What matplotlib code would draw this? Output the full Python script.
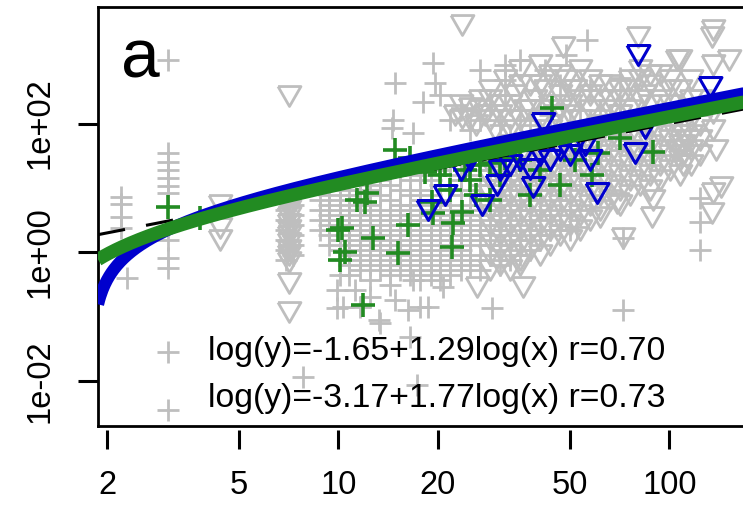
import numpy as np
import matplotlib
matplotlib.use("Agg")
import matplotlib.pyplot as plt

plt.rcParams['font.family'] = ['Liberation Sans', 'DejaVu Sans']

# ---------------- data ----------------
panel_label = "a"
x_ticks = [2, 5, 10, 20, 50, 100]
y_ticks = [1e-2, 1e0, 1e2]
y_tick_labels = ["1e-02", "1e+00", "1e+02"]

fit_intercepts = [-1.65, -3.17]
fit_slopes = [1.29, 1.77]
fit_r = [0.70, 0.73]

# scattered grey "+" points (x, y)
grey_plus = [
    (2.2, 7.2), (2.2, 5.6), (2.2, 3.5), (2.2, 2.4), (2.3, 0.4),
    (3.05, 970), (3.05, 35), (3.05, 25), (3.05, 19), (3.05, 14), (3.05, 10.7),
    (3.05, 8.3), (3.05, 1.55), (3.05, 0.81), (3.05, 0.57), (3.05, 0.028), (3.05, 0.0036),
    (7.1, 6), (7.1, 4), (7.1, 3), (7.1, 2), (7.1, 1.5), (7.1, 1.2),
    (14.8, 425), (19.3, 870), (19.6, 425), (20.3, 277), (18, 215), (14.6, 113),
    (14.5, 85), (16.8, 71), (56.5, 1970), (71.1, 500), (13.4, 11.1), (11.6, 9.3),
    (15.4, 15.9), (19, 22.7), (31.9, 805), (31.9, 470),
    (9.9, 0.26), (9.9, 0.136), (11.6, 0.14), (12.5, 0.2), (13.4, 0.08), (16.8, 0.37),
    (17.7, 0.14), (18.7, 0.14), (20.7, 0.29), (29.2, 0.136), (10.1, 0.44), (11.2, 0.26),
    (14.8, 0.18), (16.5, 0.048), (7.8, 0.0116), (17.3, 0.0087), (72.6, 0.127),
    (52.8, 2.5), (124, 7), (124, 3), (124, 1.08), (72.6, 1.65), (10.3, 0.14),
    (13.3, 0.089), (16.2, 0.127),
    (21.8, 113), (23.4, 161), (25, 79), (26.8, 113), (28.8, 194), (30.8, 95),
    (31.9, 277), (33.1, 66), (35.5, 161), (38, 113), (40.8, 231), (43.7, 135),
    (46.9, 395), (50.2, 95), (53.8, 161), (57.7, 330), (61.9, 135), (66.3, 113),
    (71.1, 194), (26.8, 675), (35.5, 965), (42.2, 675), (48.6, 1150),
]

# dense grey "+" mass, one column per x value
grey_plus_columns = [
    (6.95, [6.5, 4.5, 3.2, 2.2, 1.55, 1.08, 0.76]),
    (7.3, [5.4, 3.8, 2.65, 1.85, 1.3, 0.91]),
    (8.8, [6.5, 4.5, 3.2, 2.2]),
    (9.4, [7.8, 5.4, 3.8, 2.65, 1.85, 1.3]),
    (10.1, [9.3, 6.5, 4.5, 3.2, 2.2, 1.55, 1.08, 0.76]),
    (10.8, [7.8, 5.4, 3.8, 2.65, 1.85, 1.3, 0.91, 0.63, 0.44]),
    (11.6, [11.1, 6.5, 4.5, 3.2, 2.2, 1.55, 1.08, 0.76, 0.53]),
    (12.5, [9.3, 5.4, 3.8, 2.65, 1.85, 1.3, 0.91, 0.63, 0.37]),
    (13.4, [13.2, 7.8, 4.5, 3.2, 2.2, 1.55, 1.08, 0.76, 0.53]),
    (14.3, [11.1, 6.5, 3.8, 2.65, 1.85, 1.3, 0.91, 0.63, 0.44, 0.31]),
    (15.4, [9.3, 5.4, 4.5, 3.2, 2.2, 1.55, 1.08, 0.76, 0.53]),
    (16.5, [13.2, 7.8, 5.4, 3.8, 2.65, 1.85, 1.3, 0.91, 0.63, 0.44]),
    (17.7, [15.9, 9.3, 6.5, 4.5, 3.2, 2.2, 1.55, 1.08, 0.76, 0.53, 0.37]),
    (19.0, [13.2, 7.8, 5.4, 3.8, 2.65, 1.85, 1.3, 0.91, 0.63, 0.44]),
    (20.3, [18.9, 11.1, 6.5, 4.5, 3.2, 2.2, 1.55, 1.08, 0.76, 0.53, 0.37]),
    (21.8, [15.9, 9.3, 5.4, 3.8, 2.65, 1.85, 1.3, 0.91, 0.63, 0.44]),
    (23.4, [27, 13.2, 7.8, 4.5, 3.2, 2.2, 1.55, 1.08, 0.76, 0.53]),
    (25.0, [22.7, 15.9, 9.3, 5.4, 3.8, 2.65, 1.85, 1.3, 0.91, 0.63]),
    (26.8, [18.9, 11.1, 6.5, 4.5, 3.2, 2.2, 1.55, 0.76, 0.53]),
    (28.8, [32.4, 13.2, 7.8, 5.4, 3.8, 2.65, 1.85, 1.3, 0.91]),
    (30.8, [27, 15.9, 9.3, 6.5, 4.5, 3.2, 2.2, 1.08, 0.63]),
    (33.1, [38.7, 18.9, 11.1, 5.4, 2.65, 1.85, 1.3, 0.76]),
    (35.5, [22.7, 13.2, 9.3, 4.5, 1.55, 0.91]),
    (38.0, [27, 15.9, 6.5, 3.2, 2.2, 1.08]),
    (40.8, [18.9, 9.3, 4.5, 1.85]),
    (43.7, [22.7, 11.1, 3.8, 2.2]),
    (46.9, [15.9, 6.5, 2.65]),
    (50.2, [11.1, 4.5, 2.2]),
]

# scattered grey triangles (x, y)
grey_tri = [
    (4.4, 5.4), (4.4, 2.4), (4.4, 1.55),
    (7.1, 270), (7.1, 7), (7.1, 5.5), (7.1, 4.5), (7.1, 3.5), (7.1, 2.8), (7.1, 2.2),
    (7.1, 1.8), (7.1, 1.4), (7.1, 1.1), (7.1, 0.9), (7.1, 0.7), (7.1, 0.33), (7.1, 0.12),
    (136, 2830), (135, 2200), (151, 965), (136, 805), (105.8, 965), (80.6, 2200),
    (47.6, 1530), (23.6, 3400), (108, 965), (116, 470), (124, 231), (93.9, 565),
    (136, 79), (138, 38.7), (143, 10.3), (136, 145), (69.7, 5.8), (61.9, 3.5),
    (88.8, 3.5), (89.4, 6.5), (136, 8.3), (135, 4.1), (72.6, 1.65), (36.1, 0.29),
    (35.5, 0.63), (26.3, 0.29), (110, 66), (110, 46), (110, 32.4), (110, 22.7),
    (114, 55), (106, 38.7),
    (22.5, 135), (23.6, 121), (25, 173), (26, 95), (26.8, 231), (27.8, 135),
    (28.8, 330), (29.8, 79), (30.8, 194), (31.9, 470), (33.1, 113), (34.3, 277),
    (35.5, 675), (36.7, 161), (38, 395), (39.4, 231), (40.8, 805), (42.2, 330),
    (43.7, 565), (45.3, 135), (46.9, 277), (48.6, 470), (50.2, 194), (52, 330),
    (53.8, 675), (57.7, 277), (61.9, 395), (66.3, 231), (71.1, 330), (76.2, 470),
    (81.7, 675), (84.6, 277), (87.6, 395), (100.7, 330),
    (23.4, 194), (25, 113), (26.8, 161), (28.8, 113), (28.8, 231), (30.8, 135),
    (33.1, 194), (33.1, 79), (35.5, 113), (35.5, 395), (38, 161), (38, 66),
    (40.8, 113), (40.8, 395), (43.7, 194), (43.7, 79), (46.9, 161), (46.9, 565),
    (50.2, 135), (50.2, 330), (53.8, 231), (53.8, 113), (57.7, 161), (57.7, 470),
    (61.9, 231), (61.9, 113), (66.3, 161), (66.3, 395), (71.1, 231), (71.1, 135),
    (76.2, 330), (76.2, 161), (81.7, 231), (81.7, 470), (87.6, 194), (87.6, 565),
    (93.9, 231), (100.7, 470), (100.7, 194), (108, 330), (116, 231),
]

# dense grey triangle mass, one column per x value
grey_tri_columns = [
    (28.8, [22.7, 13.2, 7.8, 4.5, 2.65, 1.55, 0.91, 0.53]),
    (30.8, [27, 15.9, 9.3, 5.4, 3.2, 1.85, 1.08, 0.63]),
    (33.1, [22.7, 13.2, 7.8, 4.5, 2.65, 1.55, 0.91, 0.53]),
    (35.5, [32.4, 18.9, 11.1, 6.5, 3.8, 2.2, 1.3, 0.76]),
    (38.0, [27, 15.9, 9.3, 5.4, 3.2, 1.85, 1.08]),
    (40.8, [38.7, 22.7, 13.2, 7.8, 4.5, 2.65, 1.55, 0.91]),
    (43.7, [32.4, 18.9, 11.1, 6.5, 3.8, 2.2, 1.3]),
    (46.9, [46, 27, 15.9, 9.3, 5.4, 3.2, 1.85]),
    (50.2, [38.7, 22.7, 13.2, 7.8, 4.5, 2.65, 1.55]),
    (53.8, [55, 32.4, 18.9, 11.1, 6.5, 3.8, 2.2]),
    (57.7, [46, 27, 15.9, 9.3, 5.4, 3.2]),
    (61.9, [66, 38.7, 22.7, 13.2, 7.8, 4.5]),
    (66.3, [55, 32.4, 18.9, 11.1, 6.5]),
    (71.1, [79, 46, 27, 15.9, 9.3, 5.4]),
    (76.2, [66, 38.7, 22.7, 13.2, 7.8]),
    (81.7, [95, 55, 32.4, 18.9, 11.1]),
    (87.6, [79, 46, 27, 15.9, 9.3]),
    (93.9, [113, 66, 38.7, 22.7, 13.2]),
    (100.7, [95, 55, 32.4, 18.9]),
    (108.0, [135, 79, 46, 27, 15.9]),
    (116.0, [113, 66, 38.7, 22.7]),
    (124.0, [95, 55, 32.4]),
]

green_plus = [
    (3.05, 5), (3.82, 3.4), (12.05, 6), (12.2, 8.4), (10.25, 2.4), (12.7, 1.67),
    (10.5, 1.0), (10.1, 0.76), (15.1, 0.98), (16.2, 2.65), (11.9, 0.15), (19.2, 6.0),
    (19.3, 4.1), (22.1, 1.2), (23.6, 4.2), (22.2, 2.85), (14.8, 38.7), (16.5, 29),
    (44.3, 173), (61, 35), (58.5, 16), (89.4, 36), (71.1, 59), (26.8, 23), (30.8, 16),
    (25, 13.2), (21.8, 9.3), (20.3, 16), (35.5, 27), (40.8, 19), (46.9, 11), (38, 7.8),
    (28.8, 6.5), (26, 7.8), (52, 27), (18.3, 17.5), (21, 22.7), (24.2, 18.9),
    (28.8, 24), (31.9, 29), (11.4, 6.5), (10, 2.2),
]

blue_tri = [
    (18.6, 4.5), (27.2, 5.4), (30.2, 11.1), (41.4, 102), (80.6, 1150), (133, 368),
    (38.8, 10.4), (60.6, 8.4), (79, 35), (84.6, 85), (30.8, 18.9), (33.1, 22.7),
    (35.5, 27), (38, 20), (40.8, 32.4), (43.7, 27), (46.9, 38.7), (50.2, 32.4),
    (52, 46), (55.8, 46), (57.7, 27), (23.4, 18.9), (25, 27), (21, 7.8),
]

# ---------------- styling ----------------
GREY = "#BEBEBE"
GREEN = "#228B22"
BLUE = "#0000CD"

W, H = 743, 505
fig = plt.figure(figsize=(W / 100, H / 100), dpi=100)

ax_l, ax_r, ax_t, ax_b = 98, 770, 7, 425.5
ax = fig.add_axes([ax_l / W, 1 - ax_b / H, (ax_r - ax_l) / W, (ax_b - ax_t) / H])
ax.set_xscale('log')
ax.set_yscale('log')
ax.set_xlim(1.879, 201.5)
ax.set_ylim(0.002046, 6442)

tri = [(-1, 0.87), (1, 0.87), (0, -0.87), (-1, 0.87)]


def expand(cols):
    xs, ys = [], []
    for x, yl in cols:
        xs += [x] * len(yl)
        ys += list(yl)
    return xs, ys


gpx, gpy = map(list, zip(*grey_plus))
cx, cy = expand(grey_plus_columns)
gpx += cx
gpy += cy
gtx, gty = map(list, zip(*grey_tri))
cx, cy = expand(grey_tri_columns)
gtx += cx
gty += cy

ax.plot(gtx, gty, ls='none', marker=tri, ms=16.5, mew=2.0, mfc='none', mec=GREY, zorder=2)
ax.plot(gpx, gpy, ls='none', marker='+', ms=16.5, mew=2.0, color=GREY, zorder=2)

grx, gry = zip(*green_plus)
btx, bty = zip(*blue_tri)
ax.plot(grx, gry, ls='none', marker='+', ms=17.5, mew=2.6, color=GREEN, zorder=3)
ax.plot(btx, bty, ls='none', marker=tri, ms=16.5, mew=2.2, mfc='none', mec=BLUE, zorder=3)

# 1:1 reference line and the two fitted lines (from the printed coefficients)
xs = np.geomspace(1.879, 201.5, 600)
ax.plot(xs, xs, color='black', lw=2.2, dashes=(9, 7), zorder=4)
for a, b, col, lw in [(fit_intercepts[1], fit_slopes[1], BLUE, 8.8),
                      (fit_intercepts[0], fit_slopes[0], GREEN, 9.6)]:
    ys = a + b * xs
    ys = np.where(ys > 0, ys, np.nan)
    ax.plot(xs, ys, color=col, lw=lw, solid_capstyle='butt', zorder=5)

# frame
for s in ['left', 'top', 'right']:
    ax.spines[s].set_linewidth(2.0)
ax.spines['bottom'].set_position(('outward', 3))
ax.spines['bottom'].set_color('none')
ax.plot([0, 1], [0, 0], transform=ax.transAxes, color='black', lw=2.0,
        clip_on=False, zorder=6, solid_capstyle='projecting')

ax.set_xticks(x_ticks)
ax.set_xticklabels([str(t) for t in x_ticks])
ax.xaxis.set_minor_locator(matplotlib.ticker.NullLocator())
ax.set_yticks(y_ticks)
ax.set_yticklabels(y_tick_labels, rotation=90, va='center')
ax.yaxis.set_minor_locator(matplotlib.ticker.NullLocator())
ax.tick_params(axis='x', length=14, width=2.2, labelsize=23.5, pad=15, color='black')
ax.tick_params(axis='y', length=14.5, width=2.2, labelsize=23.5, pad=16, color='black')

# texts
fig.text(140 / W, 1 - 77 / H, panel_label, fontsize=50, ha='center', va='baseline')
labels = [f"log(y)={fit_intercepts[i]:.2f}+{fit_slopes[i]:.2f}log(x) r={fit_r[i]:.2f}"
          for i in range(2)]
for lab, base in zip(labels, [360, 407]):
    fig.text(208 / W, 1 - base / H, lab, fontsize=24.3, ha='left', va='baseline')

fig.savefig("out.png", dpi=100)
